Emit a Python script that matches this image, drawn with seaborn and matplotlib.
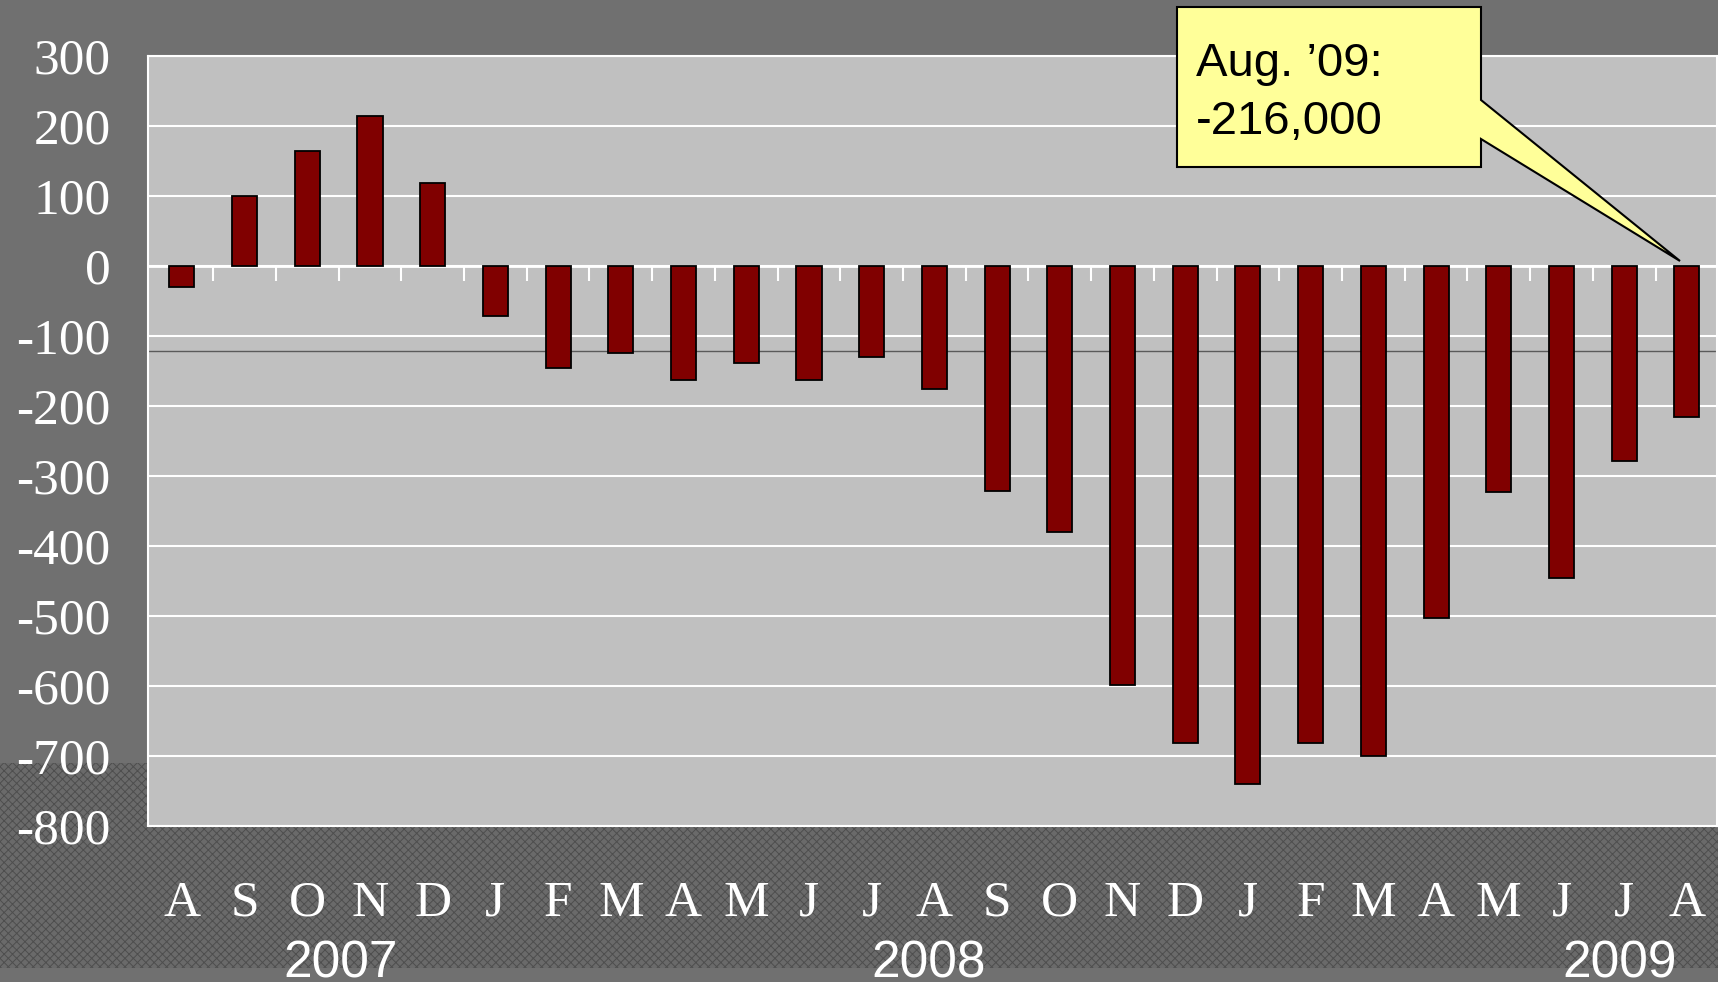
import numpy as np
import pandas as pd
import matplotlib
matplotlib.use('Agg')
import matplotlib.pyplot as plt
import matplotlib.transforms as mtransforms
from matplotlib.patches import Rectangle, Polygon
import seaborn as sns

# 月度就业变化（千人），2007年8月 - 2009年8月
periods = ['2007-08', '2007-09', '2007-10', '2007-11', '2007-12',
           '2008-01', '2008-02', '2008-03', '2008-04', '2008-05', '2008-06',
           '2008-07', '2008-08', '2008-09', '2008-10', '2008-11', '2008-12',
           '2009-01', '2009-02', '2009-03', '2009-04', '2009-05', '2009-06',
           '2009-07', '2009-08']
month_letters = ['A', 'S', 'O', 'N', 'D', 'J', 'F', 'M', 'A', 'M', 'J', 'J',
                 'A', 'S', 'O', 'N', 'D', 'J', 'F', 'M', 'A', 'M', 'J', 'J', 'A']
job_change = [-30, 100, 165, 214, 119, -72, -146, -124, -163, -138, -163, -130,
              -176, -321, -380, -599, -682, -740, -682, -700, -503, -323, -445,
              -279, -216]
years = ['2007', '2008', '2009']
y_ticks = list(range(-800, 301, 100))
ref_level = -122
callout_lines = ['Aug. \u201909:', '-216,000']

# 版式（像素）
W, H = 1718, 982
year_x = [2.53, 11.91, 22.93]
callout_px = [(1177, 7), (1481, 7), (1481, 100), (1680, 261),
              (1481, 139), (1481, 167), (1177, 167)]

plt.rcParams['font.family'] = ['Liberation Serif', 'DejaVu Serif']
plt.rcParams['axes.unicode_minus'] = False
plt.rcParams['hatch.linewidth'] = 0.7

fig = plt.figure(figsize=(W / 100, H / 100), dpi=100, facecolor='#707070')

# 底部纹理带
fig.add_artist(Rectangle((0, 1 - 968 / H), 1, (968 - 763) / H,
                         transform=fig.transFigure, facecolor='#6a6a6a',
                         edgecolor='#4e4e4e', hatch='xxxx', linewidth=0,
                         zorder=-1))

ax = fig.add_axes([148 / W, 1 - 826 / H, (1717 - 148) / W, 770 / H])
ax.set_facecolor('#c0c0c0')

df = pd.DataFrame({'period': periods, 'change': job_change})
sns.barplot(data=df, x='period', y='change', color='#800000', saturation=1,
            width=0.4, edgecolor='black', linewidth=1.3, ax=ax)

ax.axhline(ref_level, color='#5a5a5a', linewidth=1.0, zorder=0.8)

ax.set_xlim(-0.54, 24.48)
ax.set_ylim(-800, 300)
ax.set_yticks(y_ticks)
ax.set_xticks(range(len(periods)), month_letters)
ax.set_xlabel('')
ax.set_ylabel('')
ax.tick_params(axis='both', length=0, labelcolor='white', labelsize=37)
ax.tick_params(axis='y', pad=27)
ax.tick_params(axis='x', pad=39)
ax.grid(axis='y', color='white', linewidth=1.5)
ax.grid(axis='x', visible=False)
ax.set_axisbelow(True)
for s in ax.spines.values():
    s.set_color('white')
    s.set_linewidth(1.5)

# 零线及类别分隔刻度
sec = ax.secondary_xaxis(8 / 11)
sec.set_xticks(np.arange(0.5, len(periods) - 1, 1))
sec.tick_params(direction='in', length=11, width=1.5, color='white',
                labeltop=False, labelbottom=False)
for s in sec.spines.values():
    s.set_color('white')
    s.set_linewidth(2)

# 年份
trans = mtransforms.blended_transform_factory(ax.transData, fig.transFigure)
for yr, xp in zip(years, year_x):
    ax.text(xp, 1 - 978 / H, yr, transform=trans, ha='center', va='baseline',
            fontsize=37, family='Liberation Sans', color='white', clip_on=False)

# 标注框
pts = [(x / W, 1 - y / H) for x, y in callout_px]
fig.add_artist(Polygon(pts, closed=True, transform=fig.transFigure,
                       facecolor='#ffff99', edgecolor='black', linewidth=1.5,
                       zorder=4))
fig.text(1196 / W, 1 - 76 / H, callout_lines[0], va='baseline', fontsize=34,
         family='Liberation Sans', color='black', zorder=6)
fig.text(1196 / W, 1 - 134 / H, callout_lines[1], va='baseline', fontsize=34,
         family='Liberation Sans', color='black', zorder=6)

fig.savefig('out.png', dpi=100, facecolor=fig.get_facecolor())
